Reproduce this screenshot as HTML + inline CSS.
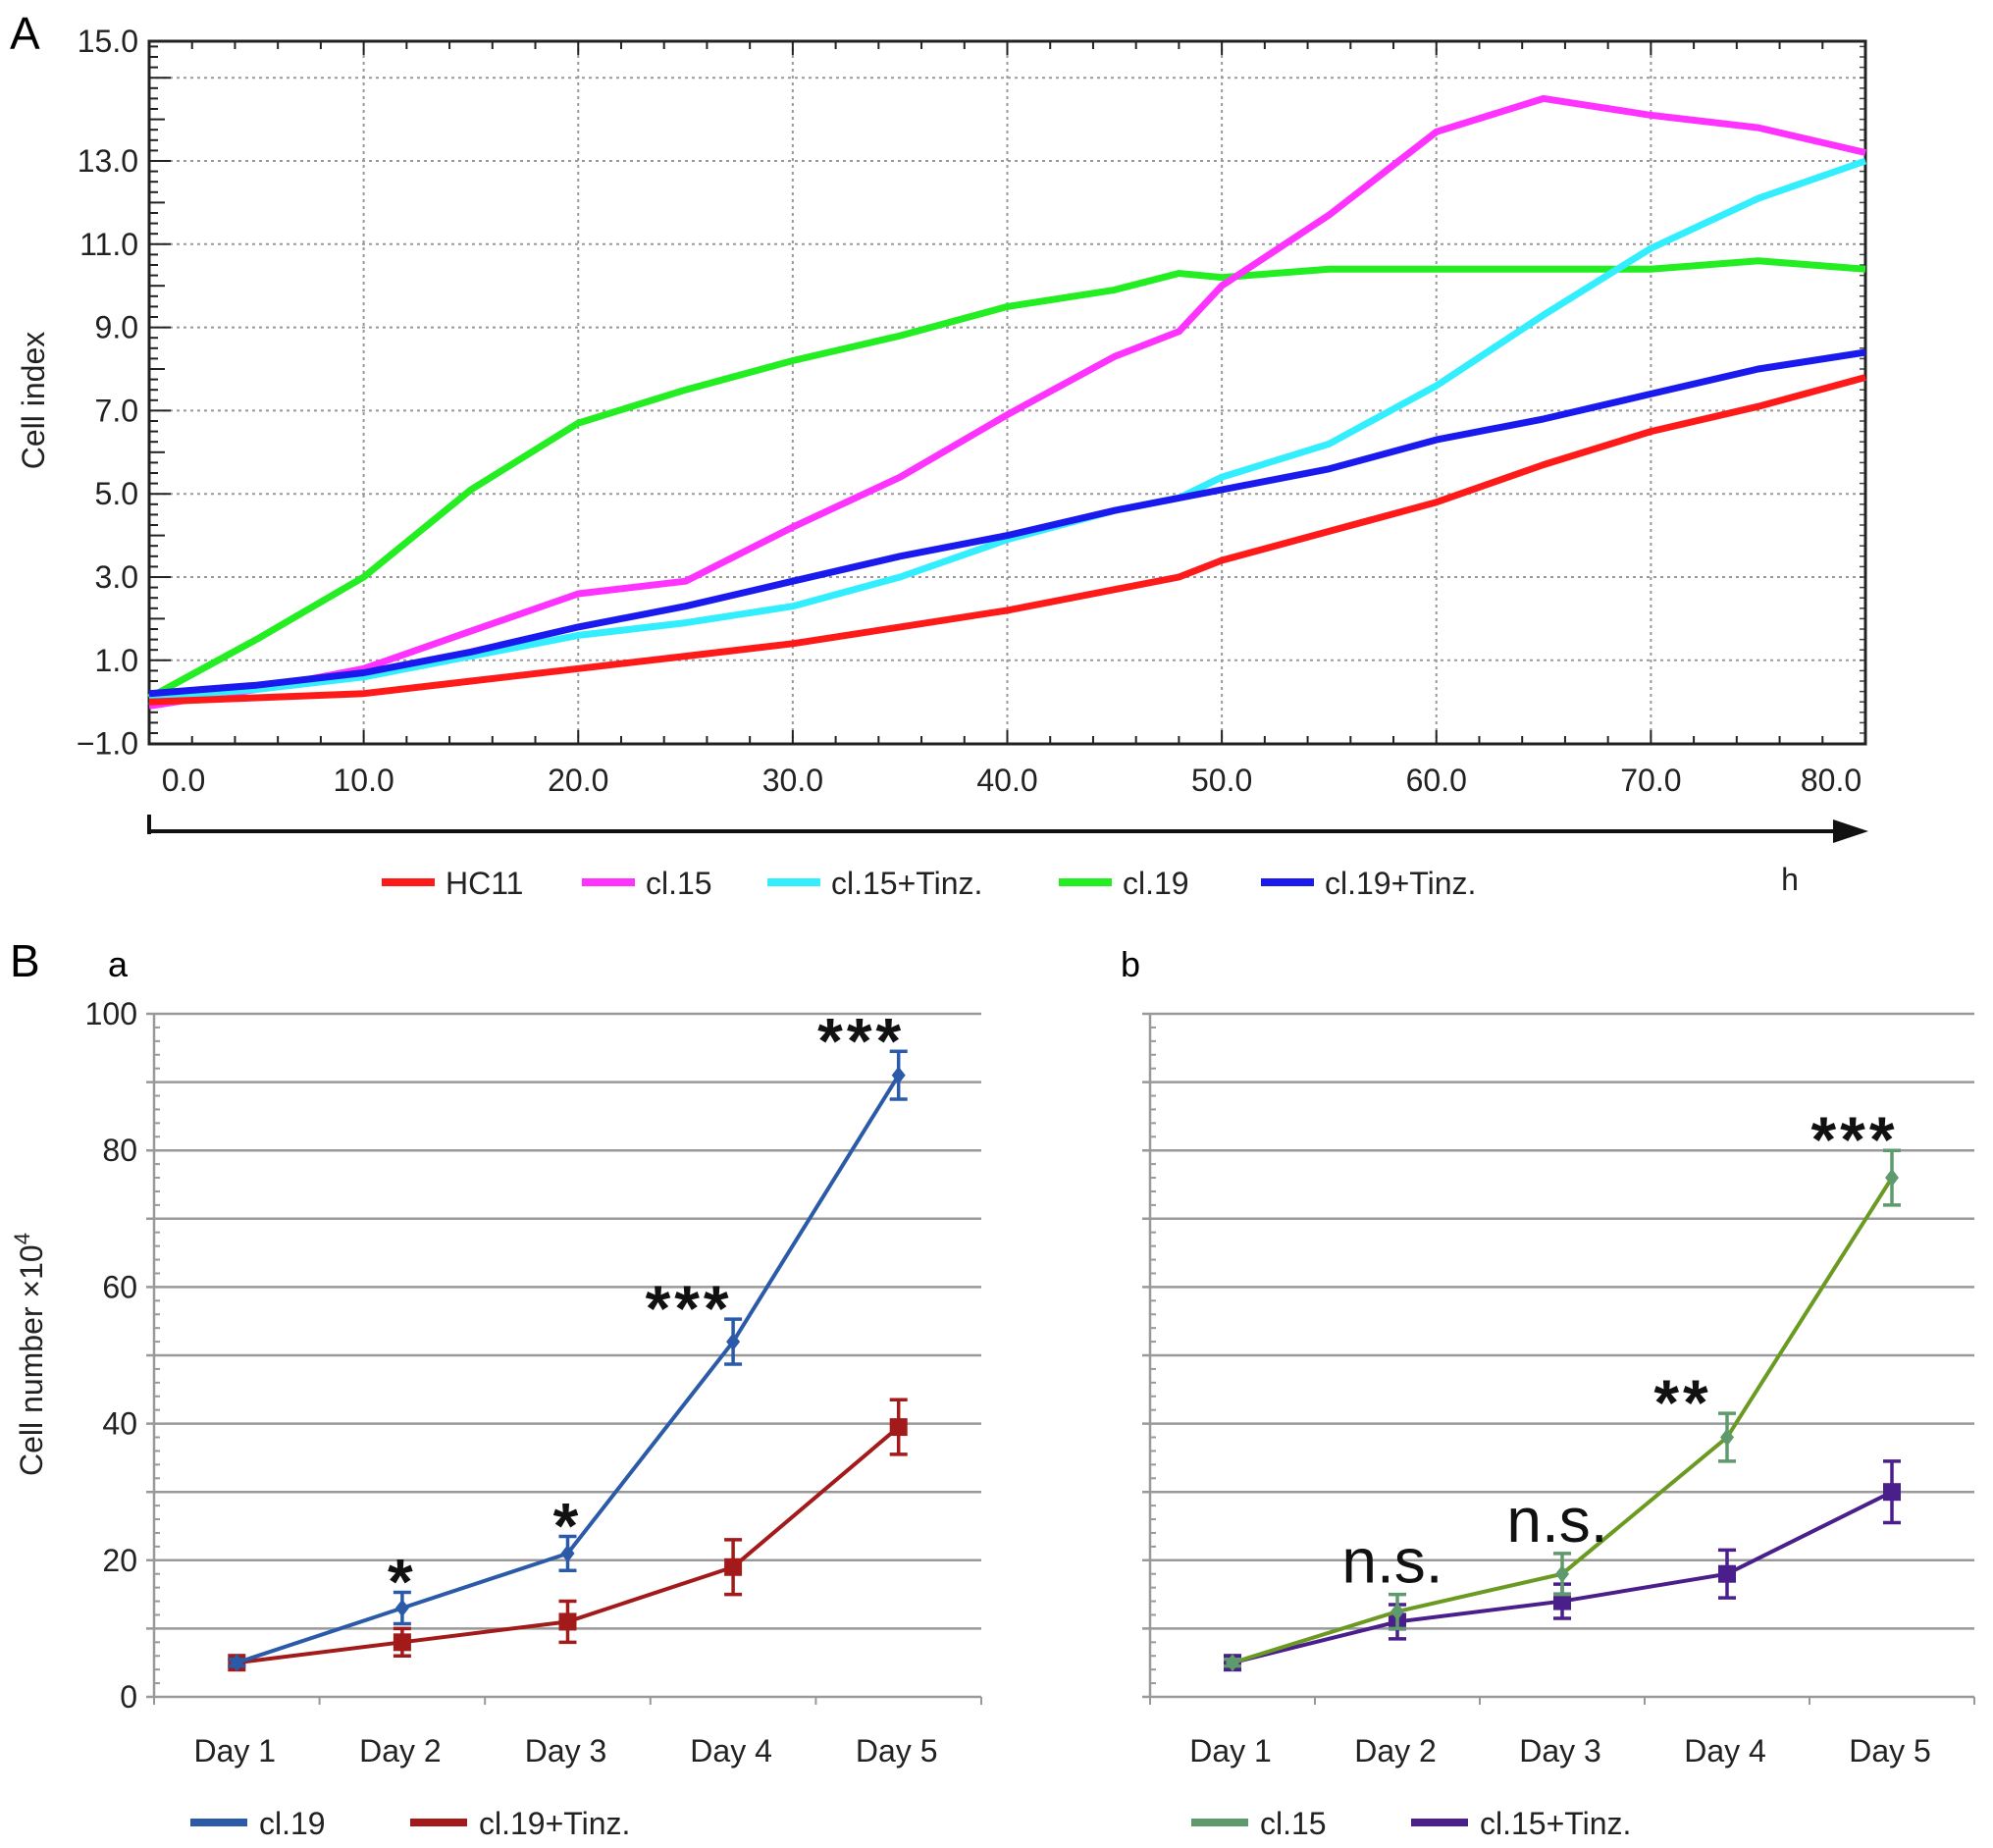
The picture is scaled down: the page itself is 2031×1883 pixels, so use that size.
<!DOCTYPE html>
<html><head><meta charset="utf-8">
<style>
html,body{margin:0;padding:0;background:#fff;}
svg{display:block;font-family:"Liberation Sans",Arial,sans-serif;}
</style></head>
<body>
<svg id="fig" width="2031" height="1883" viewBox="0 0 2031 1883" xmlns="http://www.w3.org/2000/svg">
<text x="10" y="50" font-size="46">A</text>
<text x="10" y="995" font-size="46">B</text>
<text x="110" y="995" font-size="36">a</text>
<text x="1142" y="995" font-size="36">b</text>
<g id="gA"></g>
<g id="gB1"></g>
<g id="gB2"></g>
</svg>
<script>
// ---- Panel A data ----
const hours = [0,5,10,15,20,25,30,35,40,45,48,50,55,60,65,70,75,80];
const hc11   = [0.0,0.1,0.2,0.5,0.8,1.1,1.4,1.8,2.2,2.7,3.0,3.4,4.1,4.8,5.7,6.5,7.1,7.8];
const cl15   = [-0.1,0.3,0.8,1.7,2.6,2.9,4.2,5.4,6.9,8.3,8.9,10.0,11.7,13.7,14.5,14.1,13.8,13.2];
const cl15T  = [0.1,0.3,0.6,1.1,1.6,1.9,2.3,3.0,3.9,4.6,4.9,5.4,6.2,7.6,9.3,10.9,12.1,13.0];
const cl19   = [0.1,1.5,3.0,5.1,6.7,7.5,8.2,8.8,9.5,9.9,10.3,10.2,10.4,10.4,10.4,10.4,10.6,10.4];
const cl19T  = [0.2,0.4,0.7,1.2,1.8,2.3,2.9,3.5,4.0,4.6,4.9,5.1,5.6,6.3,6.8,7.4,8.0,8.4];
const seriesNamesA = ["HC11","cl.15","cl.15+Tinz.","cl.19","cl.19+Tinz."];
const yTicksA = [-1,1,3,5,7,9,11,13,15];
const xTicksA = [0,10,20,30,40,50,60,70,80];

// ---- Panel B data ----
const days = ["Day 1","Day 2","Day 3","Day 4","Day 5"];
const cl19Count = [5,13,21,52,91];
const cl19Err = [0.5,2.3,2.5,3.3,3.5];
const cl19TCount = [5,8,11,19,39.5];
const cl19TErr = [0.5,2,3,4,4];
const cl15Count = [5,12.5,18,38,76];
const cl15Err = [0.5,2.5,3,3.5,4];
const cl15TCount = [5,11,14,18,30];
const cl15TErr = [0.5,2.5,2.5,3.5,4.5];
const yTicksB = [0,20,40,60,80,100];
const sigLeft = ["","*","*","***","***"];
const sigRight = ["","n.s.","n.s.","**","***"];

const NS="http://www.w3.org/2000/svg";
function mk(p,tag,attrs,txt){const e=document.createElementNS(NS,tag);for(const k in attrs)e.setAttribute(k,attrs[k]);if(txt!==undefined)e.textContent=txt;p.appendChild(e);return e;}

// ===== Panel A =====
(function(){
const g=document.getElementById('gA');
const L=152,R=1901,T=42,B=758;
const xs=h=>L+h*(R-L)/80;
const ys=v=>164-(v-13)*42.4;
for(let v=-1;v<=15;v+=2){ if(v===-1)continue;
 const gl=mk(g,'line',{x1:L,x2:R,y1:ys(v),y2:ys(v),stroke:'#999','stroke-width':2,'stroke-dasharray':'3,4'});
 }
for(let h=10;h<80;h+=10){
 const gl=mk(g,'line',{x1:xs(h),x2:xs(h),y1:T,y2:B,stroke:'#999','stroke-width':2,'stroke-dasharray':'3,4'});
 }
for(let h=0;h<=80;h+=2){ mk(g,'line',{x1:xs(h),x2:xs(h),y1:B,y2:B-(h%10===0?14:8),stroke:'#222','stroke-width':2});
 mk(g,'line',{x1:xs(h),x2:xs(h),y1:T,y2:T+(h%10===0?14:8),stroke:'#222','stroke-width':2});}
for(let v=-1;v<=15.8;v+=0.25){ const big=Math.abs((v+1)%2)<0.01; const mid=Math.abs((v)%1)<0.01;
 mk(g,'line',{x1:L,x2:L+(big?22:mid?16:9),y1:ys(v),y2:ys(v),stroke:'#222','stroke-width':2});
 mk(g,'line',{x1:R,x2:R-6,y1:ys(v),y2:ys(v),stroke:'#444','stroke-width':1.5});}
const fr=mk(g,'rect',{x:L,y:T,width:R-L,height:B-T,fill:'none',stroke:'#222','stroke-width':3});

yTicksA.forEach(v=>{const y=v===15?T:ys(v);
 const t=mk(g,'text',{x:141,y:y+11,'font-size':32,'text-anchor':'end',fill:'#222'},(v<0?'\u2212':'')+Math.abs(v).toFixed(1));
 });
xTicksA.forEach(h=>{let x=xs(h); if(h===0)x=187; if(h===80)x=1866;
 const t=mk(g,'text',{x:x,y:806,'font-size':32,'text-anchor':'middle',fill:'#222'},h.toFixed(1));
 });
const yt=mk(g,'text',{x:0,y:0,'font-size':32,'text-anchor':'middle',fill:'#222',transform:'translate(45,408) rotate(-90)'},'Cell index');

const ar=mk(g,'line',{x1:152,x2:1875,y1:847,y2:847,stroke:'#111','stroke-width':4});

mk(g,'polygon',{points:'1868,835 1904,847 1868,859',fill:'#111'});
mk(g,'line',{x1:152,x2:152,y1:830,y2:850,stroke:'#111','stroke-width':4});
const ht=mk(g,'text',{x:1824,y:907,'font-size':32,'text-anchor':'middle',fill:'#222'},'h');

const all=[hc11,cl15,cl15T,cl19,cl19T];
const cols=['#ff1a1a','#ff33ff','#33eeff','#22ee22','#1a1aee'];
const order=[3,1,2,4,0];
order.forEach(i=>{
 const d=hours.map((h,j)=>(j?'L':'M')+xs(h).toFixed(1)+','+ys(all[i][j]).toFixed(1)).join(' ');
 const p=mk(g,'path',{d:d,fill:'none',stroke:cols[i],'stroke-width':7,'stroke-linejoin':'round'});
 
 
});
const lx=[389,593,782,1079,1285];
seriesNamesA.forEach((n,i)=>{
 const ln=mk(g,'line',{x1:lx[i],x2:lx[i]+54,y1:899,y2:899,stroke:cols[i],'stroke-width':8});
 
 const t=mk(g,'text',{x:lx[i]+65,y:911,'font-size':32,fill:'#222'},n);
 
});
})();

// ===== Panel B =====
function panelB(id,L,R,s1,e1,s2,e2,c1,c2,legC1,names,sig,showY,legX){
 const g=document.getElementById(id);
 const T=1033,B=1729;
 const ys=v=>B-v*(B-T)/100;
 const w=(R-L)/5;
 const xs=i=>L+w*(i+0.5);
 for(let v=10;v<=100;v+=10){const gl=mk(g,'line',{x1:L-8,x2:R,y1:ys(v),y2:ys(v),stroke:'#999','stroke-width':2.5});
  }
 for(let v=0;v<=100;v+=2) mk(g,'line',{x1:L,x2:L+6,y1:ys(v),y2:ys(v),stroke:'#999','stroke-width':2});
 const ax=mk(g,'line',{x1:L,x2:L,y1:T,y2:B,stroke:'#999','stroke-width':2.5});
 
 const xa=mk(g,'line',{x1:L-8,x2:R,y1:B,y2:B,stroke:'#999','stroke-width':2.5});
 
 for(let i=0;i<=5;i++) mk(g,'line',{x1:L+w*i,x2:L+w*i,y1:B,y2:B+8,stroke:'#999','stroke-width':2});
 if(showY) yTicksB.forEach(v=>{const t=mk(g,'text',{x:L-17,y:ys(v)+11,'font-size':32,'text-anchor':'end',fill:'#222'},String(v));
  });
 days.forEach((d,i)=>{const t=mk(g,'text',{x:xs(i)-2,y:1795,'font-size':32,'text-anchor':'middle',fill:'#222'},d);
  });
 [[s2,e2,c2,'square'],[s1,e1,c1,'diamond']].forEach(([s,e,c,mkType],k)=>{
  const d=s.map((v,i)=>(i?'L':'M')+xs(i)+','+ys(v)).join(' ');
  const p=mk(g,'path',{d:d,fill:'none',stroke:c,'stroke-width':4});
  
  const ec=(k&&legC1)?legC1:c;
  s.forEach((v,i)=>{const x=xs(i);
   const eb=mk(g,'path',{d:`M${x},${ys(v+e[i])} L${x},${ys(v-e[i])} M${x-9},${ys(v+e[i])} L${x+9},${ys(v+e[i])} M${x-9},${ys(v-e[i])} L${x+9},${ys(v-e[i])}`,stroke:ec,'stroke-width':3.5,fill:'none'});
   
   let m;
   if(mkType==='square') m=mk(g,'rect',{x:x-9,y:ys(v)-9,width:18,height:18,fill:c});
   else m=mk(g,'polygon',{points:`${x},${ys(v)-9} ${x+7},${ys(v)} ${x},${ys(v)+9} ${x-7},${ys(v)}`,fill:ec});
   
  });
 });
 sig.forEach((sg,i)=>{ if(!sg)return; const top=s1[i]+e1[i];
  const ns=sg==='n.s.';
  const t=mk(g,'text',{x:xs(i)-(i===3&&!ns?45:i===4&&!ns?38:0)-(ns?5:0),y:ys(top)-(ns?12:-12),'font-size':ns?64:66,'font-weight':ns?'normal':'bold','text-anchor':'middle',fill:'#111','letter-spacing':ns?0:4},sg);
  });
 const lc=[legC1||c1,c2];
 legX.forEach((x,i)=>{
  const ln=mk(g,'line',{x1:x,x2:x+58,y1:1857,y2:1857,stroke:lc[i],'stroke-width':8});
  
  const t=mk(g,'text',{x:x+70,y:1869,'font-size':32,fill:'#222'},names[i]);
  
 });
}
panelB('gB1',157,1000,cl19Count,cl19Err,cl19TCount,cl19TErr,'#2b5ba8','#a31a1a',null,['cl.19','cl.19+Tinz.'],sigLeft,true,[194,418]);
panelB('gB2',1172,2012,cl15Count,cl15Err,cl15TCount,cl15TErr,'#6a9a22','#4a1f8c','#5e9a6c',['cl.15','cl.15+Tinz.'],sigRight,false,[1214,1438]);
const yb=document.createElementNS(NS,'text');


yb.setAttribute('font-size','32');yb.setAttribute('text-anchor','middle');yb.setAttribute('fill','#222');
yb.setAttribute('transform','translate(43,1380) rotate(-90)');
yb.innerHTML='Cell number \u00d710<tspan dy="-13" font-size="22">4</tspan>';
document.getElementById('fig').appendChild(yb);
</script>
</body></html>
